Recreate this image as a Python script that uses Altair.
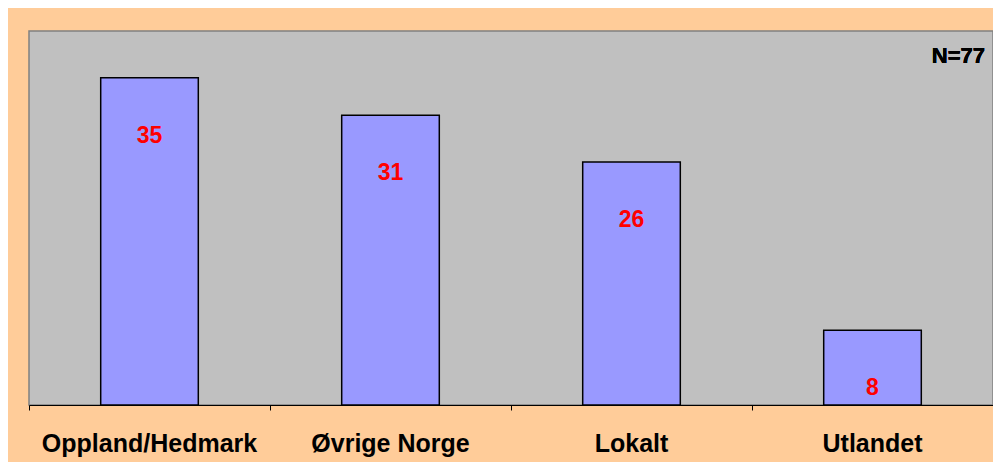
import altair as alt
import pandas as pd

categories = ["Oppland/Hedmark", "Øvrige Norge", "Lokalt", "Utlandet"]
values = [35, 31, 26, 8]
n_label = "N=77"

df = pd.DataFrame({"kategori": categories, "verdi": values})

W, H = 964, 374

x = alt.X(
    "kategori:N",
    sort=categories,
    scale=alt.Scale(paddingInner=0, paddingOuter=0),
    axis=alt.Axis(
        title=None,
        labelAngle=0,
        labelFont="Liberation Sans",
        labelFontWeight="bold",
        labelFontSize=25,
        labelColor="black",
        labelPadding=21,
        labelLimit=0,
        tickColor="black",
        tickSize=5,
        bandPosition=0,
        domainColor="black",
        domainWidth=1,
    ),
)
y = alt.Y("verdi:Q", scale=alt.Scale(domain=[0, 40]), axis=None)

base = alt.Chart(df)

bars = base.mark_bar(
    width=alt.RelativeBandSize(0.405),
    color="#9999FF",
    stroke="black",
    strokeWidth=1.5,
).encode(x=x, y=y)

labels = base.mark_text(
    font="Liberation Sans",
    fontWeight="bold",
    fontSize=23,
    color="#FF0000",
    baseline="middle",
    dy=58,
).encode(x=x, y=y, text="verdi:Q")

note = base.mark_text(
    font="Liberation Sans",
    fontWeight="bold",
    fontSize=22,
    color="black",
    align="right",
    baseline="middle",
).encode(x=alt.value(956), y=alt.value(25), text=alt.value(n_label))

chart = (
    alt.layer(bars, labels, note)
    .properties(
        width=W,
        height=H,
        background="#FFCC99",
        padding={"left": 21, "top": 23, "right": 0, "bottom": 57},
        autosize=alt.AutoSizeParams(type="none"),
    )
    .configure_view(fill="#C0C0C0", stroke="#808080", strokeWidth=1.5)
)

chart.save("out.html", embed_options={"renderer": "svg", "actions": False})
